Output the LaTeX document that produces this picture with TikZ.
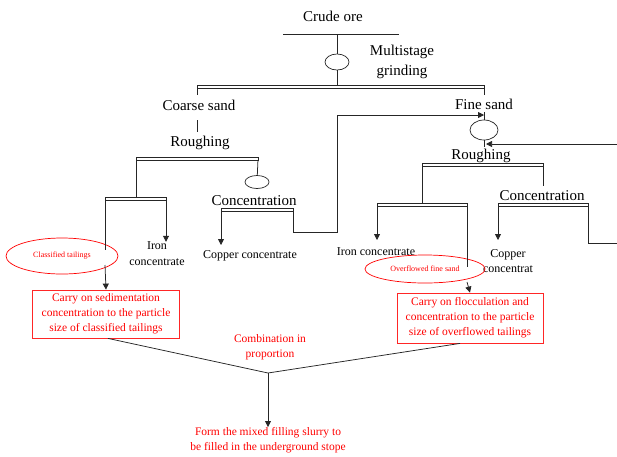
\documentclass[tikz,border=0pt]{standalone}
\usepackage{fontspec}
\setmainfont{Liberation Serif}
\usetikzlibrary{arrows.meta,positioning,shapes.geometric}

% double splitter bar between two points
\newcommand{\splitbar}[2]{\draw[barln] ([yshift=-1.4pt]#1) rectangle ([yshift=1.4pt]#2);}

\begin{document}
\begin{tikzpicture}[
    x=1pt, y=-1pt,
    >={Triangle[width=6pt,length=6pt]},
    big/.style={inner sep=0pt, align=center, font=\fontsize{15}{20}\selectfont},
    mid/.style={inner sep=0pt, align=center, font=\fontsize{12}{16}\selectfont},
    redtxt/.style={inner sep=0pt, align=center, text=red, font=\fontsize{11.5}{15}\selectfont},
    redbox/.style={draw=red!85, line width=0.8pt, minimum width=147pt, minimum height=48pt, inner sep=0pt, align=center, text=red, font=\fontsize{11.5}{15}\selectfont},
    redoval/.style={ellipse, draw=red, line width=0.7pt, inner sep=0pt, text=red, font=\fontsize{8}{9}\selectfont},
    oval/.style={ellipse, draw=black!85, line width=0.7pt, inner sep=0pt},
    barln/.style={line width=0.6pt, draw=black!85, fill=white},
    ln/.style={line width=0.75pt, draw=black!85},
    arr/.style={->, line width=0.75pt, draw=black!85}
  ]
  \useasboundingbox (0,0) rectangle (617,456);

  % --- FEED AND GRINDING ---
  \node[big] (crude) at (333,16) {Crude ore};
  \coordinate (feedL) at (283,34);
  \coordinate (feedM) at (337,34);
  \coordinate (feedR) at (399,34);
  \node[oval, minimum width=24pt, minimum height=16pt] (grind) at (337,62) {};
  \node[big] (grindtxt) at (402,62) {Multistage\\grinding};
  \coordinate (splitL) at (197,87);
  \coordinate (splitM) at (337,87);
  \coordinate (splitR) at (484,87);
  \coordinate (tickL) at (197,95);
  \coordinate (tickR) at (484,95);

  \draw[ln] (feedL) -- (feedR);
  \draw[ln] (feedM) -- (grind) -- (splitM);
  \draw[ln] (splitL) -- (tickL);
  \draw[ln] (splitR) -- (tickR);
  \splitbar{splitL}{splitR}

  % --- COARSE SAND BRANCH ---
  \node[big] (coarse) at (199,105) {Coarse sand};
  \coordinate (coarseA) at (197,120);
  \coordinate (coarseB) at (197,132);
  \node[big] (rough1) at (200,143) {Roughing};
  \coordinate (r1L) at (136,159);
  \coordinate (r1R) at (258,159);
  \coordinate (s1L) at (105,199);
  \coordinate (s1R) at (166,199);
  \node[oval, minimum width=24pt, minimum height=13pt] (c1oval) at (257,182) {};
  \node[big] (conc1) at (254,201) {Concentration};
  \coordinate (c1L) at (221,210);
  \coordinate (c1R) at (293,210);
  \coordinate (c1end) at (221,245);
  \coordinate (loopA) at (337,232);
  \node[mid] (iron1) at (157,254) {Iron\\concentrate};
  \node[mid] (copper1) at (250,256) {Copper concentrate};
  \node[redoval, minimum width=112pt, minimum height=36pt] (classified) at (62,256) {Classified tailings};
  \coordinate (gap1A) at (105,250);
  \coordinate (gap1B) at (105,265);
  \node[redbox] (sed) at (106,314) {Carry on sedimentation\\concentration to the particle\\size of classified tailings};

  \draw[ln] (coarseA) -- (coarseB);
  \draw[ln] (r1L) -- (s1L -| r1L);
  \draw[arr] (s1R) -- (iron1.north -| s1R);
  \draw[ln] (r1R) -- (c1oval);
  \draw[arr] (c1L) -- (c1end);
  \splitbar{r1L}{r1R}
  \splitbar{s1L}{s1R}
  \splitbar{c1L}{c1R}

  % --- FINE SAND BRANCH ---
  \node[big] (fine) at (484,104) {Fine sand};
  \node[oval, minimum width=28pt, minimum height=20pt] (fineoval) at (484,130) {};
  \coordinate (fineTick) at (484,112);
  \coordinate (fineTop) at (484,115);
  \coordinate (fineBot) at (484,144);
  \coordinate (fineBotTick) at (484,147);
  \coordinate (recycle) at (617,144);
  \node[big] (rough2) at (481,156) {Roughing};
  \coordinate (r2L) at (422,165);
  \coordinate (r2R) at (543,165);
  \coordinate (r2end) at (543,186);
  \coordinate (s2L) at (377,205);
  \coordinate (s2R) at (467,205);
  \coordinate (s2end) at (377,240);
  \node[big] (conc2) at (542,196) {Concentration};
  \coordinate (c2L) at (498,205);
  \coordinate (c2R) at (588,205);
  \coordinate (c2end) at (498,240);
  \coordinate (c2out) at (617,243);
  \node[mid] (iron2) at (376,252) {Iron concentrate};
  \node[mid, font=\fontsize{12}{15}\selectfont] (copper2) at (508,261) {Copper\\concentrat};
  \node[redoval, minimum width=120pt, minimum height=28pt] (overflow) at (425,269) {Overflowed fine sand};
  \coordinate (gap2A) at (467,267);
  \coordinate (gap2B) at (467,282);
  \node[redbox, minimum width=146pt, minimum height=50pt] (floc) at (470,318) {Carry on flocculation and\\concentration to the particle\\size of overflowed tailings};

  \draw[arr] (c1R) |- (loopA) |- (fineTop);
  \draw[ln] (fineTick) -- (fineoval);
  \draw[ln] (fineoval) -- (fineBotTick);
  \draw[arr] (recycle) -- ([xshift=2pt]fineBot);
  \draw[ln] (r2R) -- (r2end);
  \draw[ln] (r2L) -- (s2L -| r2L);
  \draw[arr] (s2L) -- (s2end);
  \draw[arr] (c2L) -- (c2end);
  \draw[ln] (c2R) |- (c2out);
  \splitbar{r2L}{r2R}
  \splitbar{s2L}{s2R}
  \splitbar{c2L}{c2R}

  % --- TAILINGS TO FILLING ---
  \draw[ln] (s1L) -- (gap1A);
  \draw[arr] (gap1B) -- (sed.north);
  \draw[ln] (s2R) -- (gap2A);
  \draw[arr] (gap2B) -- (floc.north);

  \coordinate (join) at (268,373);
  \node[redtxt] (combine) at (270,347) {Combination in\\proportion};
  \node[redtxt] (slurry) at (268,440) {Form the mixed filling slurry to\\be filled in the underground stope};
  \draw[ln] ([xshift=2pt]sed.south) -- (join);
  \draw[ln] ([xshift=-10pt]floc.south) -- (join);
  \draw[arr] (join) -- (slurry.north);

\end{tikzpicture}
\end{document}
